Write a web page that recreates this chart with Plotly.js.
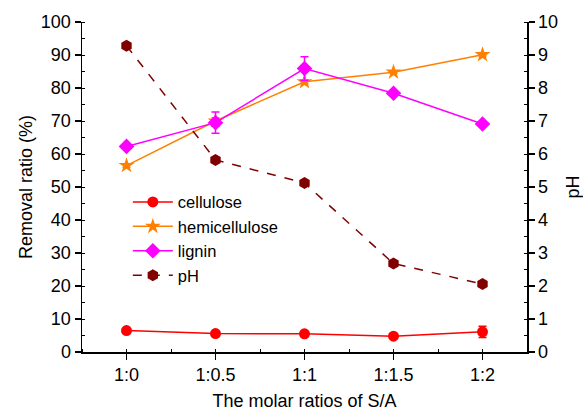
<!DOCTYPE html>
<html>
<head>
<meta charset="utf-8">
<script src="https://cdn.plot.ly/plotly-3.0.1.min.js"></script>
<style>html,body{margin:0;padding:0;background:#fff;}#chart{width:583px;height:411px;}</style>
</head>
<body>
<div id="chart"></div>
<script>
const categories = ["1:0", "1:0.5", "1:1", "1:1.5", "1:2"];
const cellulose = [6.5, 5.6, 5.5, 4.8, 6.1];
const celluloseErr = [0.4, 0.4, 0.4, 0.4, 1.7];
const hemicellulose = [56.5, 70.0, 81.9, 84.8, 90.1];
const hemicelluloseErr = [0.5, 1.0, 0.6, 0.4, 0.4];
const lignin = [62.3, 69.5, 85.9, 78.4, 69.1];
const ligninErr = [0.5, 3.2, 3.6, 0.5, 0.5];
const pH = [9.28, 5.82, 5.12, 2.68, 2.06];

const xIdx = categories.map((_, i) => i);
const font = "Liberation Sans, Arial, sans-serif";
const fs = 18;

function errObj(arr, color) {
  return {type: "data", array: arr, visible: true, color: color, thickness: 1.5, width: 4};
}

const traces = [
  {x: xIdx, y: cellulose, name: "cellulose", type: "scatter", mode: "lines+markers",
   line: {color: "#ff0000", width: 1.5}, marker: {symbol: "circle", size: 11, color: "#ff0000"},
   error_y: errObj(celluloseErr, "#ff0000")},
  {x: xIdx, y: hemicellulose, name: "hemicellulose", type: "scatter", mode: "lines+markers",
   line: {color: "#ff8000", width: 1.5}, marker: {symbol: "star", size: 12, color: "#ff8000"},
   error_y: errObj(hemicelluloseErr, "#ff8000")},
  {x: xIdx, y: lignin, name: "lignin", type: "scatter", mode: "lines+markers",
   line: {color: "#ff00ff", width: 1.5}, marker: {symbol: "diamond", size: 12, color: "#ff00ff"},
   error_y: errObj(ligninErr, "#ff00ff")},
  {x: xIdx, y: pH, name: "pH", type: "scatter", mode: "lines+markers", yaxis: "y2",
   line: {color: "#800000", width: 1.5, dash: "dash"}, marker: {symbol: "hexagon", size: 12, color: "#800000"}}
];

const layout = {
  width: 583, height: 411,
  margin: {l: 82, r: 56, t: 22, b: 59},
  paper_bgcolor: "#fff", plot_bgcolor: "#fff",
  font: {family: font, size: fs, color: "#000"},
  showlegend: true,
  legend: {x: 0.103, y: 0.507, xanchor: "left", yanchor: "top", bgcolor: "rgba(0,0,0,0)",
           font: {family: font, size: 16.5, color: "#000"}, itemwidth: 40, tracegroupgap: 0},
  xaxis: {
    range: [-0.5, 4.5], tickvals: xIdx, ticktext: categories,
    showline: true, linecolor: "#000", linewidth: 1.5, mirror: false,
    ticks: "outside", ticklen: 6, tickwidth: 1.2, tickcolor: "#000",
    minor: {dtick: 0.5, tick0: 0, ticks: "inside", ticklen: 3, tickwidth: 1, tickcolor: "#000"},
    showgrid: false, zeroline: false,
    tickfont: {family: font, size: fs},
    title: {text: "The molar ratios of S/A", font: {family: font, size: fs}, standoff: 14}
  },
  yaxis: {
    range: [0, 100], dtick: 10, tick0: 0,
    showline: true, linecolor: "#000", linewidth: 1.5,
    ticks: "outside", ticklen: 6, tickwidth: 1.2, tickcolor: "#000",
    minor: {dtick: 5, ticks: "inside", ticklen: 3, tickwidth: 1, tickcolor: "#000"},
    showgrid: false, zeroline: false,
    tickfont: {family: font, size: fs},
    title: {text: "Removal ratio (%)", font: {family: font, size: fs}, standoff: 3}
  },
  yaxis2: {
    range: [0, 10], dtick: 1, tick0: 0, overlaying: "y", side: "right",
    showline: true, linecolor: "#000", linewidth: 1.5,
    ticks: "outside", ticklen: 6, tickwidth: 1.2, tickcolor: "#000",
    minor: {dtick: 0.5, ticks: "inside", ticklen: 3, tickwidth: 1, tickcolor: "#000"},
    showgrid: false, zeroline: false,
    tickfont: {family: font, size: fs},
    title: {text: "pH", font: {family: font, size: fs}, standoff: 10}
  }
};

Plotly.newPlot("chart", traces, layout, {displayModeBar: false, staticPlot: true});
</script>
</body>
</html>
